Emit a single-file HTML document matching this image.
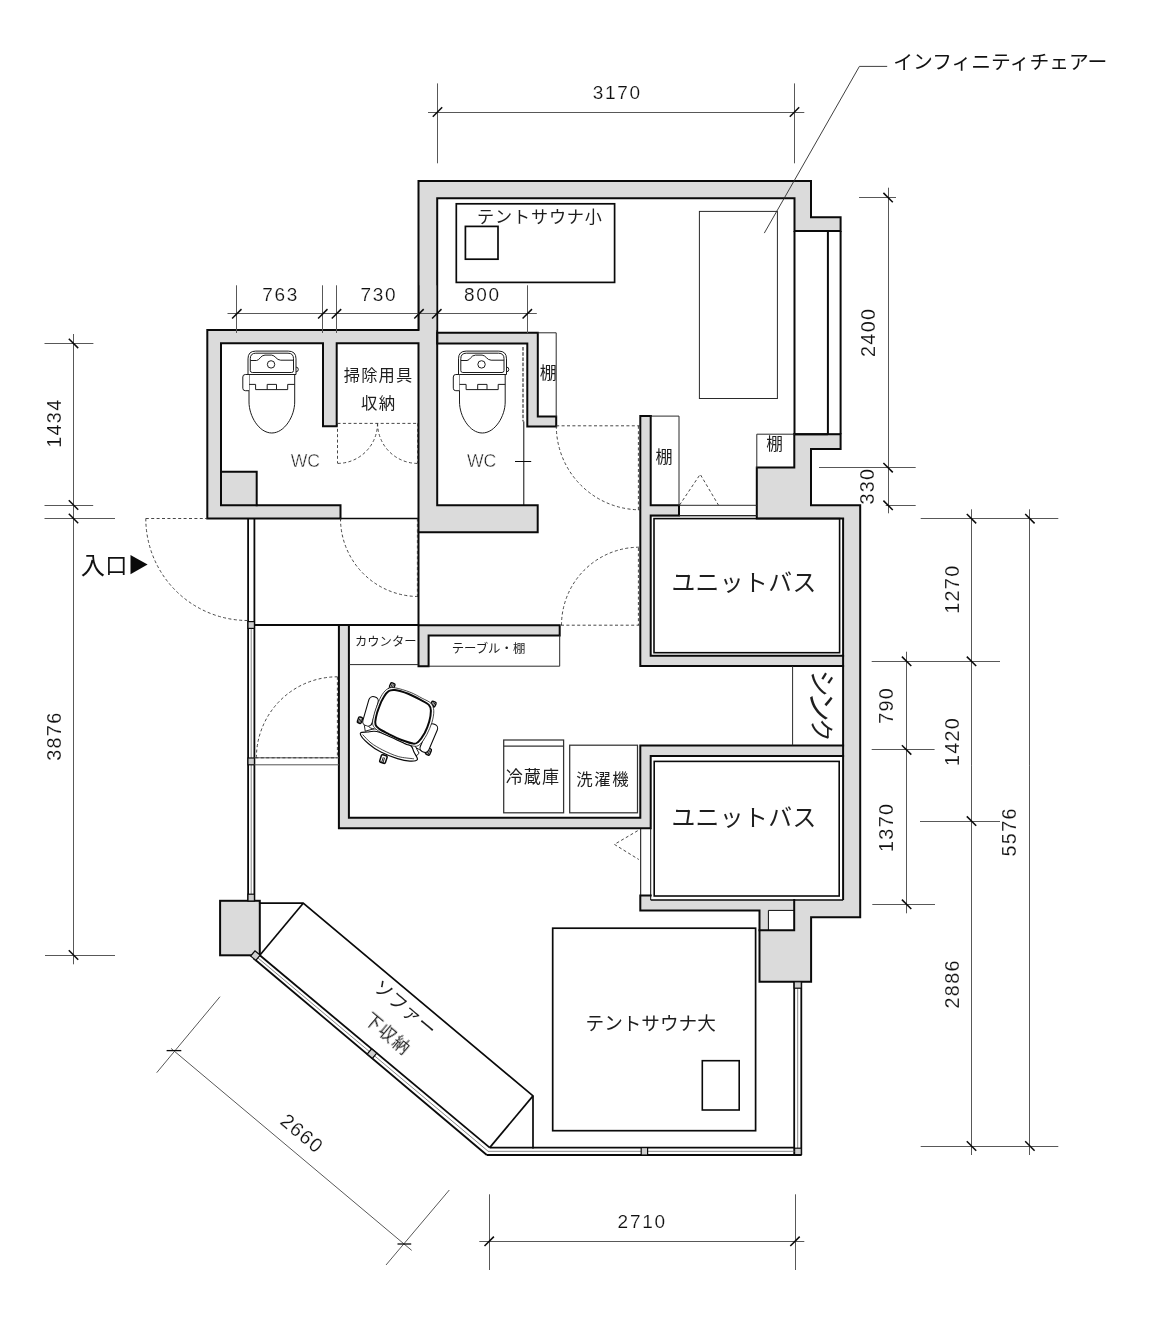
<!DOCTYPE html>
<html lang="ja">
<head>
<meta charset="utf-8">
<title>Floor plan</title>
<style>
html,body{margin:0;padding:0;background:#fff;}
body{width:1162px;height:1321px;overflow:hidden;font-family:"Liberation Sans",sans-serif;}
svg{display:block;}
svg text{font-family:"Liberation Sans",sans-serif;fill:#101010;stroke:#fff;stroke-width:0.16px;paint-order:fill stroke;}
svg text.jp{font-family:"Liberation Sans","Noto Sans CJK JP",sans-serif;fill:#1e1e1e;stroke:none;}
</style>
</head>
<body>
<svg width="1162" height="1321" viewBox="0 0 1162 1321">
<rect width="1162" height="1321" fill="#ffffff"/>
<g id="wall-fills" shape-rendering="crispEdges">
<rect x="207.3" y="330.0" width="211.2" height="13.3" fill="#dbdbdb"/>
<rect x="207.3" y="330.0" width="13.7" height="188.5" fill="#dbdbdb"/>
<rect x="207.3" y="505.3" width="133.2" height="13.2" fill="#dbdbdb"/>
<rect x="221.0" y="471.7" width="35.7" height="33.6" fill="#dbdbdb"/>
<rect x="323.0" y="343.3" width="13.7" height="82.9" fill="#dbdbdb"/>
<rect x="418.5" y="181.0" width="18.7" height="351.2" fill="#dbdbdb"/>
<rect x="418.5" y="181.0" width="392.5" height="17.2" fill="#dbdbdb"/>
<rect x="794.5" y="198.2" width="16.5" height="32.8" fill="#dbdbdb"/>
<rect x="811.0" y="217.2" width="29.6" height="13.8" fill="#dbdbdb"/>
<rect x="418.5" y="505.3" width="119.2" height="26.9" fill="#dbdbdb"/>
<rect x="437.2" y="332.8" width="100.6" height="10.7" fill="#dbdbdb"/>
<rect x="527.3" y="332.8" width="10.5" height="93.6" fill="#dbdbdb"/>
<rect x="527.3" y="416.4" width="28.9" height="10.0" fill="#dbdbdb"/>
<rect x="794.3" y="434.2" width="46.3" height="14.8" fill="#dbdbdb"/>
<rect x="794.3" y="449.0" width="16.7" height="56.3" fill="#dbdbdb"/>
<rect x="756.8" y="467.6" width="54.2" height="50.9" fill="#dbdbdb"/>
<rect x="811.0" y="505.3" width="49.2" height="13.2" fill="#dbdbdb"/>
<rect x="843.1" y="505.3" width="17.1" height="411.9" fill="#dbdbdb"/>
<rect x="640.3" y="416.1" width="10.4" height="249.9" fill="#dbdbdb"/>
<rect x="650.7" y="505.3" width="28.3" height="10.3" fill="#dbdbdb"/>
<rect x="640.3" y="655.7" width="202.8" height="10.3" fill="#dbdbdb"/>
<rect x="640.3" y="745.4" width="202.8" height="10.3" fill="#dbdbdb"/>
<rect x="640.3" y="745.4" width="10.4" height="82.9" fill="#dbdbdb"/>
<rect x="640.3" y="895.5" width="10.4" height="14.9" fill="#dbdbdb"/>
<rect x="650.7" y="900.0" width="192.4" height="10.4" fill="#dbdbdb"/>
<rect x="794.2" y="900.0" width="66.0" height="17.2" fill="#dbdbdb"/>
<rect x="759.5" y="910.4" width="8.9" height="19.8" fill="#dbdbdb"/>
<rect x="759.5" y="930.2" width="51.6" height="51.6" fill="#dbdbdb"/>
<rect x="794.2" y="910.4" width="16.9" height="19.8" fill="#dbdbdb"/>
<rect x="338.9" y="625.0" width="10.0" height="203.3" fill="#dbdbdb"/>
<rect x="338.9" y="817.8" width="311.8" height="10.5" fill="#dbdbdb"/>
<rect x="418.5" y="625.2" width="141.2" height="10.2" fill="#dbdbdb"/>
<rect x="418.5" y="625.2" width="10.1" height="41.0" fill="#dbdbdb"/>
<rect x="220.1" y="900.8" width="39.7" height="54.5" fill="#dbdbdb"/>
</g>
<g id="wall-lines">
<path d="M207.3 330.0 L418.5 330.0 L418.5 181.0 L811.0 181.0 L811.0 217.2 L840.6 217.2 L840.6 231.0 L794.5 231.0 L794.5 198.2 L437.2 198.2 L437.2 505.3 L537.7 505.3 L537.7 532.2 L418.5 532.2 L418.5 343.3 L336.7 343.3 L336.7 426.2 L323.0 426.2 L323.0 343.3 L221.0 343.3 L221.0 471.7 L256.7 471.7 L256.7 505.3 L340.5 505.3 L340.5 518.5 L207.3 518.5 Z" fill="none" stroke="#0a0a0a" stroke-width="2.00" stroke-linecap="square" stroke-linejoin="miter"/>
<path d="M221.0 471.7 L221.0 505.3 L256.7 505.3" fill="none" stroke="#0a0a0a" stroke-width="2.00" stroke-linecap="square" stroke-linejoin="miter"/>
<path d="M437.2 332.8 L537.8 332.8 L537.8 416.4 L556.2 416.4 L556.2 426.4 L527.3 426.4 L527.3 343.5 L437.2 343.5 Z" fill="none" stroke="#0a0a0a" stroke-width="2.00" stroke-linecap="square" stroke-linejoin="miter"/>
<line x1="794.5" y1="231.0" x2="794.5" y2="434.2" stroke="#0a0a0a" stroke-width="2.00" stroke-linecap="butt"/>
<line x1="827.9" y1="231.0" x2="827.9" y2="434.2" stroke="#0a0a0a" stroke-width="2.00" stroke-linecap="butt"/>
<line x1="840.6" y1="231.0" x2="840.6" y2="434.2" stroke="#0a0a0a" stroke-width="2.00" stroke-linecap="butt"/>
<line x1="794.5" y1="434.2" x2="827.9" y2="434.2" stroke="#0a0a0a" stroke-width="2.00" stroke-linecap="butt"/>
<line x1="827.9" y1="231.0" x2="840.6" y2="231.0" stroke="#0a0a0a" stroke-width="1.00" stroke-linecap="butt"/>
<line x1="827.9" y1="434.2" x2="840.6" y2="434.2" stroke="#0a0a0a" stroke-width="1.00" stroke-linecap="butt"/>
<path d="M794.3 434.2 L840.6 434.2 L840.6 449.0 L811.0 449.0 L811.0 505.3 L860.2 505.3 L860.2 917.2 L811.1 917.2 L811.1 981.8 L759.5 981.8 L759.5 910.4 L640.3 910.4 L640.3 895.5 L650.7 895.5" fill="none" stroke="#0a0a0a" stroke-width="2.00" stroke-linecap="square" stroke-linejoin="miter"/>
<path d="M650.7 416.1 L640.3 416.1 L640.3 666.0 L843.1 666.0" fill="none" stroke="#0a0a0a" stroke-width="2.00" stroke-linecap="square" stroke-linejoin="miter"/>
<path d="M650.7 416.1 L650.7 505.3 L679.0 505.3 L679.0 515.6 L650.7 515.6 L650.7 655.7 L843.1 655.7" fill="none" stroke="#0a0a0a" stroke-width="2.00" stroke-linecap="square" stroke-linejoin="miter"/>
<path d="M794.3 434.2 L794.3 467.6 L756.8 467.6 L756.8 518.5 L843.1 518.5" fill="none" stroke="#0a0a0a" stroke-width="2.00" stroke-linecap="square" stroke-linejoin="miter"/>
<line x1="843.1" y1="518.5" x2="843.1" y2="900.0" stroke="#0a0a0a" stroke-width="2.00" stroke-linecap="butt"/>
<line x1="650.7" y1="515.6" x2="756.8" y2="515.6" stroke="#0a0a0a" stroke-width="1.20" stroke-linecap="butt"/>
<rect x="654.0" y="518.6" width="185.6" height="134.1" fill="none" stroke="#0a0a0a" stroke-width="1.60"/>
<path d="M348.9 625.0 L348.9 817.8 L640.3 817.8 L640.3 745.4 L843.1 745.4" fill="none" stroke="#0a0a0a" stroke-width="2.00" stroke-linecap="square" stroke-linejoin="miter"/>
<path d="M338.9 625.0 L338.9 828.3 L650.7 828.3 L650.7 755.9 L843.1 755.9" fill="none" stroke="#0a0a0a" stroke-width="2.00" stroke-linecap="square" stroke-linejoin="miter"/>
<line x1="650.7" y1="828.3" x2="650.7" y2="900.0" stroke="#0a0a0a" stroke-width="1.00" stroke-linecap="butt"/>
<line x1="640.7" y1="828.3" x2="640.7" y2="895.5" stroke="#0a0a0a" stroke-width="1.00" stroke-linecap="butt"/>
<line x1="650.7" y1="900.0" x2="843.1" y2="900.0" stroke="#0a0a0a" stroke-width="1.60" stroke-linecap="butt"/>
<rect x="654.2" y="761.4" width="185.0" height="134.6" fill="none" stroke="#0a0a0a" stroke-width="1.60"/>
<path d="M768.4 930.2 L768.4 910.4 L794.2 910.4" fill="none" stroke="#0a0a0a" stroke-width="1.00" stroke-linecap="square" stroke-linejoin="miter"/>
<path d="M794.2 900.0 L794.2 930.2 L759.5 930.2" fill="none" stroke="#0a0a0a" stroke-width="2.00" stroke-linecap="square" stroke-linejoin="miter"/>
<path d="M418.5 625.2 L559.7 625.2 L559.7 635.4 L428.6 635.4 L428.6 666.2 L418.5 666.2 Z" fill="none" stroke="#0a0a0a" stroke-width="2.00" stroke-linecap="square" stroke-linejoin="miter"/>
<rect x="220.1" y="900.8" width="39.7" height="54.5" fill="none" stroke="#0a0a0a" stroke-width="2.00"/>
</g>
<g id="furniture">
<path d="M537.8 332.8 L556.2 332.8 L556.2 416.4" fill="none" stroke="#2a2a2a" stroke-width="1.00" stroke-linecap="square" stroke-linejoin="miter"/>
<path d="M650.7 416.1 L679.0 416.1 L679.0 505.3" fill="none" stroke="#2a2a2a" stroke-width="1.00" stroke-linecap="square" stroke-linejoin="miter"/>
<path d="M794.3 434.2 L756.8 434.2 L756.8 467.6" fill="none" stroke="#2a2a2a" stroke-width="1.00" stroke-linecap="square" stroke-linejoin="miter"/>
<line x1="679.0" y1="505.3" x2="756.8" y2="505.3" stroke="#2a2a2a" stroke-width="1.00" stroke-linecap="butt"/>
<line x1="679.0" y1="515.6" x2="756.8" y2="515.6" stroke="#2a2a2a" stroke-width="1.00" stroke-linecap="butt"/>
<rect x="456.3" y="203.8" width="158.3" height="78.6" fill="none" stroke="#0a0a0a" stroke-width="1.70"/>
<rect x="465.4" y="226.4" width="32.6" height="32.8" fill="none" stroke="#0a0a0a" stroke-width="1.70"/>
<rect x="699.4" y="211.4" width="78.0" height="187.1" fill="none" stroke="#2a2a2a" stroke-width="1.00"/>
<path d="M887.2 66.4 L859.4 66.4 L764.3 233.1" fill="none" stroke="#2a2a2a" stroke-width="0.90" stroke-linecap="butt" stroke-linejoin="miter"/>
<rect x="552.7" y="928.2" width="202.9" height="202.5" fill="none" stroke="#0a0a0a" stroke-width="1.70"/>
<rect x="702.3" y="1060.7" width="36.9" height="49.3" fill="none" stroke="#0a0a0a" stroke-width="1.60"/>
<rect x="503.7" y="740.0" width="59.9" height="72.8" fill="none" stroke="#333" stroke-width="1.25"/>
<line x1="503.7" y1="746.0" x2="563.6" y2="746.0" stroke="#333" stroke-width="1.25" stroke-linecap="butt"/>
<rect x="569.7" y="745.2" width="67.8" height="67.6" fill="none" stroke="#333" stroke-width="1.25"/>
<line x1="348.9" y1="664.6" x2="418.5" y2="664.6" stroke="#2a2a2a" stroke-width="1.00" stroke-linecap="butt"/>
<line x1="428.6" y1="666.2" x2="559.7" y2="666.2" stroke="#2a2a2a" stroke-width="1.00" stroke-linecap="butt"/>
<line x1="559.7" y1="635.4" x2="559.7" y2="666.2" stroke="#2a2a2a" stroke-width="1.00" stroke-linecap="butt"/>
<line x1="792.6" y1="666.0" x2="792.6" y2="745.4" stroke="#2a2a2a" stroke-width="1.00" stroke-linecap="butt"/>
<line x1="340.5" y1="518.5" x2="418.5" y2="518.5" stroke="#0a0a0a" stroke-width="1.50" stroke-linecap="butt"/>
<line x1="418.5" y1="532.2" x2="418.5" y2="625.2" stroke="#0a0a0a" stroke-width="2.00" stroke-linecap="butt"/>
<line x1="254.4" y1="625.0" x2="418.5" y2="625.0" stroke="#0a0a0a" stroke-width="1.80" stroke-linecap="butt"/>
<line x1="523.8" y1="421.4" x2="523.8" y2="505.3" stroke="#0a0a0a" stroke-width="1.00" stroke-linecap="butt"/>
<line x1="523.0" y1="347.0" x2="523.0" y2="421.4" stroke="#0a0a0a" stroke-width="1.00" stroke-linecap="butt" stroke-dasharray="3.6 1.6"/>
<line x1="515.0" y1="461.5" x2="531.2" y2="461.5" stroke="#0a0a0a" stroke-width="1.00" stroke-linecap="butt"/>
</g>
<g id="windows">
<line x1="248.1" y1="518.5" x2="248.1" y2="901.0" stroke="#0a0a0a" stroke-width="1.80" stroke-linecap="butt"/>
<line x1="254.4" y1="518.5" x2="254.4" y2="901.0" stroke="#0a0a0a" stroke-width="1.80" stroke-linecap="butt"/>
<line x1="251.2" y1="628.4" x2="251.2" y2="901.0" stroke="#666" stroke-width="0.80" stroke-linecap="butt"/>
<rect x="248.0" y="621.6" width="6.4" height="6.8" fill="#cfcfcf" stroke="#0a0a0a" stroke-width="1.20"/>
<rect x="248.0" y="758.0" width="6.4" height="6.8" fill="#cfcfcf" stroke="#0a0a0a" stroke-width="1.20"/>
<rect x="248.0" y="894.2" width="6.4" height="6.8" fill="#cfcfcf" stroke="#0a0a0a" stroke-width="1.20"/>
<line x1="254.4" y1="757.8" x2="338.9" y2="757.8" stroke="#555" stroke-width="1.00" stroke-linecap="butt"/>
<line x1="254.4" y1="764.8" x2="338.9" y2="764.8" stroke="#555" stroke-width="1.00" stroke-linecap="butt"/>
<line x1="794.2" y1="981.8" x2="794.2" y2="1155.0" stroke="#0a0a0a" stroke-width="1.80" stroke-linecap="butt"/>
<line x1="801.3" y1="981.8" x2="801.3" y2="1155.0" stroke="#0a0a0a" stroke-width="1.80" stroke-linecap="butt"/>
<line x1="797.7" y1="988.0" x2="797.7" y2="1148.4" stroke="#666" stroke-width="0.80" stroke-linecap="butt"/>
<rect x="794.2" y="981.8" width="7.1" height="6.4" fill="#cfcfcf" stroke="#0a0a0a" stroke-width="1.20"/>
<rect x="794.6" y="1148.2" width="6.7" height="6.8" fill="#cfcfcf" stroke="#0a0a0a" stroke-width="1.20"/>
<line x1="489.7" y1="1147.6" x2="794.6" y2="1147.6" stroke="#0a0a0a" stroke-width="1.80" stroke-linecap="butt"/>
<line x1="486.8" y1="1155.0" x2="801.3" y2="1155.0" stroke="#0a0a0a" stroke-width="1.80" stroke-linecap="butt"/>
<line x1="488.0" y1="1151.3" x2="794.6" y2="1151.3" stroke="#666" stroke-width="0.80" stroke-linecap="butt"/>
<rect x="641.2" y="1147.6" width="6.4" height="7.4" fill="#cfcfcf" stroke="#0a0a0a" stroke-width="1.20"/>
<line x1="259.8" y1="955.3" x2="489.7" y2="1147.6" stroke="#0a0a0a" stroke-width="1.80" stroke-linecap="butt"/>
<line x1="253.4" y1="958.2" x2="486.8" y2="1155.0" stroke="#0a0a0a" stroke-width="1.80" stroke-linecap="butt"/>
<line x1="256.6" y1="956.8" x2="488.2" y2="1151.3" stroke="#666" stroke-width="0.80" stroke-linecap="butt"/>
<rect x="-3.4" y="-3.4" width="6.8" height="6.8" transform="translate(255.4 955.6) rotate(40)" fill="#cfcfcf" stroke="#0a0a0a" stroke-width="1.2"/>
<rect x="-3.4" y="-3.4" width="6.8" height="6.8" transform="translate(372.0 1053.6) rotate(40)" fill="#cfcfcf" stroke="#0a0a0a" stroke-width="1.2"/>
</g>
<g id="sofa">
<path d="M259.8 903.2 L303.2 903.2 L533.0 1095.9 L533.0 1147.6" fill="none" stroke="#0a0a0a" stroke-width="1.70" stroke-linecap="square" stroke-linejoin="miter"/>
<line x1="303.2" y1="903.2" x2="259.8" y2="955.3" stroke="#0a0a0a" stroke-width="1.70" stroke-linecap="butt"/>
<line x1="533.0" y1="1095.9" x2="489.7" y2="1147.6" stroke="#0a0a0a" stroke-width="1.70" stroke-linecap="butt"/>
</g>
<g id="doors" fill="none" stroke="#333" stroke-width="0.9" stroke-dasharray="3 2.4">
<path d="M145.8 518.5 L207.3 518.5"/>
<path d="M145.8 518.5 A102.0 102.0 0 0 0 247.8 620.5"/>
<path d="M340.5 518.5 A78.0 78.0 0 0 0 418.5 596.5"/>
<path d="M417.4 518.5 L417.4 596.5"/>
<path d="M337.5 423.4 L417.6 423.4"/>
<path d="M337.5 423.4 L337.5 463.4"/>
<path d="M417.6 423.4 L417.6 463.4"/>
<path d="M377.5 423.4 A40.0 40.0 0 0 1 337.5 463.4"/>
<path d="M377.6 423.4 A40.0 40.0 0 0 0 417.6 463.4"/>
<path d="M556.2 425.8 L640.3 425.8"/>
<path d="M556.3 425.8 A84.0 84.0 0 0 0 640.3 509.8"/>
<path d="M638.4 425.8 L638.4 509.8"/>
<path d="M561.0 625.2 L639.5 625.2"/>
<path d="M638.4 548.0 L638.4 625.2"/>
<path d="M561.5 625.2 A78.0 78.0 0 0 1 639.5 547.2"/>
<path d="M255.4 757.8 L337.4 757.8"/>
<path d="M337.4 676.8 L337.4 757.8"/>
<path d="M256.4 757.8 A81.0 81.0 0 0 1 337.4 676.8"/>
<path d="M679.6 505 L700.2 474.3 L718.4 505"/>
<path d="M637.7 830.7 L614.4 844.4 L638.8 859.5"/>
</g>
<g id="dimensions" style="filter:grayscale(1)">
<line x1="428.0" y1="112.5" x2="804.3" y2="112.5" stroke="#585858" stroke-width="1.00" stroke-linecap="butt"/>
<line x1="437.5" y1="83.4" x2="437.5" y2="163.3" stroke="#585858" stroke-width="1.00" stroke-linecap="butt"/>
<line x1="794.5" y1="83.4" x2="794.5" y2="163.3" stroke="#585858" stroke-width="1.00" stroke-linecap="butt"/>
<line x1="432.8" y1="116.7" x2="442.2" y2="107.3" stroke="#0a0a0a" stroke-width="1.50" stroke-linecap="butt"/>
<line x1="789.8" y1="116.7" x2="799.2" y2="107.3" stroke="#0a0a0a" stroke-width="1.50" stroke-linecap="butt"/>
<text transform="translate(616.5 92.2)" x="0.85" y="6.80" text-anchor="middle" font-size="19.0" letter-spacing="1.70">3170</text>
<line x1="227.5" y1="313.5" x2="536.8" y2="313.5" stroke="#585858" stroke-width="1.00" stroke-linecap="butt"/>
<line x1="236.5" y1="285.3" x2="236.5" y2="333.0" stroke="#585858" stroke-width="1.00" stroke-linecap="butt"/>
<line x1="322.5" y1="285.3" x2="322.5" y2="333.0" stroke="#585858" stroke-width="1.00" stroke-linecap="butt"/>
<line x1="336.5" y1="285.3" x2="336.5" y2="333.0" stroke="#585858" stroke-width="1.00" stroke-linecap="butt"/>
<line x1="527.5" y1="285.3" x2="527.5" y2="333.0" stroke="#585858" stroke-width="1.00" stroke-linecap="butt"/>
<line x1="419.5" y1="285.3" x2="419.5" y2="330.0" stroke="#585858" stroke-width="1.00" stroke-linecap="butt"/>
<line x1="436.5" y1="285.3" x2="436.5" y2="330.0" stroke="#585858" stroke-width="1.00" stroke-linecap="butt"/>
<line x1="232.1" y1="318.5" x2="241.5" y2="309.1" stroke="#0a0a0a" stroke-width="1.50" stroke-linecap="butt"/>
<line x1="318.1" y1="318.5" x2="327.5" y2="309.1" stroke="#0a0a0a" stroke-width="1.50" stroke-linecap="butt"/>
<line x1="331.8" y1="318.5" x2="341.2" y2="309.1" stroke="#0a0a0a" stroke-width="1.50" stroke-linecap="butt"/>
<line x1="414.3" y1="318.5" x2="423.7" y2="309.1" stroke="#0a0a0a" stroke-width="1.50" stroke-linecap="butt"/>
<line x1="432.1" y1="318.5" x2="441.5" y2="309.1" stroke="#0a0a0a" stroke-width="1.50" stroke-linecap="butt"/>
<line x1="522.6" y1="318.5" x2="532.0" y2="309.1" stroke="#0a0a0a" stroke-width="1.50" stroke-linecap="butt"/>
<text transform="translate(279.7 294.2)" x="0.85" y="6.80" text-anchor="middle" font-size="19.0" letter-spacing="1.70">763</text>
<text transform="translate(378.0 294.2)" x="0.85" y="6.80" text-anchor="middle" font-size="19.0" letter-spacing="1.70">730</text>
<text transform="translate(481.6 294.2)" x="0.85" y="6.80" text-anchor="middle" font-size="19.0" letter-spacing="1.70">800</text>
<line x1="73.5" y1="334.0" x2="73.5" y2="964.3" stroke="#585858" stroke-width="1.00" stroke-linecap="butt"/>
<line x1="44.5" y1="343.5" x2="93.4" y2="343.5" stroke="#585858" stroke-width="1.00" stroke-linecap="butt"/>
<line x1="44.5" y1="505.5" x2="93.2" y2="505.5" stroke="#585858" stroke-width="1.00" stroke-linecap="butt"/>
<line x1="44.5" y1="518.5" x2="115.0" y2="518.5" stroke="#585858" stroke-width="1.00" stroke-linecap="butt"/>
<line x1="45.0" y1="955.5" x2="115.0" y2="955.5" stroke="#585858" stroke-width="1.00" stroke-linecap="butt"/>
<line x1="68.8" y1="338.7" x2="78.2" y2="348.1" stroke="#0a0a0a" stroke-width="1.50" stroke-linecap="butt"/>
<line x1="68.8" y1="500.3" x2="78.2" y2="509.7" stroke="#0a0a0a" stroke-width="1.50" stroke-linecap="butt"/>
<line x1="68.8" y1="513.8" x2="78.2" y2="523.2" stroke="#0a0a0a" stroke-width="1.50" stroke-linecap="butt"/>
<line x1="68.8" y1="950.3" x2="78.2" y2="959.7" stroke="#0a0a0a" stroke-width="1.50" stroke-linecap="butt"/>
<text transform="translate(53.6 423.8) rotate(-90)" x="0.65" y="7.09" text-anchor="middle" font-size="19.8" letter-spacing="1.30">1434</text>
<text transform="translate(53.6 736.8) rotate(-90)" x="0.65" y="7.09" text-anchor="middle" font-size="19.8" letter-spacing="1.30">3876</text>
<line x1="888.5" y1="187.7" x2="888.5" y2="513.3" stroke="#585858" stroke-width="1.00" stroke-linecap="butt"/>
<line x1="859.0" y1="197.5" x2="896.0" y2="197.5" stroke="#585858" stroke-width="1.00" stroke-linecap="butt"/>
<line x1="819.0" y1="467.5" x2="915.7" y2="467.5" stroke="#585858" stroke-width="1.00" stroke-linecap="butt"/>
<line x1="885.7" y1="505.5" x2="915.7" y2="505.5" stroke="#585858" stroke-width="1.00" stroke-linecap="butt"/>
<line x1="883.4" y1="192.9" x2="892.8" y2="202.3" stroke="#0a0a0a" stroke-width="1.50" stroke-linecap="butt"/>
<line x1="883.4" y1="463.0" x2="892.8" y2="472.4" stroke="#0a0a0a" stroke-width="1.50" stroke-linecap="butt"/>
<line x1="883.4" y1="500.6" x2="892.8" y2="510.0" stroke="#0a0a0a" stroke-width="1.50" stroke-linecap="butt"/>
<text transform="translate(867.6 333.0) rotate(-90)" x="0.65" y="7.09" text-anchor="middle" font-size="19.8" letter-spacing="1.30">2400</text>
<text transform="translate(867.2 486.7) rotate(-90)" x="0.65" y="7.09" text-anchor="middle" font-size="19.8" letter-spacing="1.30">330</text>
<line x1="906.5" y1="651.7" x2="906.5" y2="913.3" stroke="#585858" stroke-width="1.00" stroke-linecap="butt"/>
<line x1="871.7" y1="661.5" x2="1000.0" y2="661.5" stroke="#585858" stroke-width="1.00" stroke-linecap="butt"/>
<line x1="871.7" y1="749.5" x2="934.6" y2="749.5" stroke="#585858" stroke-width="1.00" stroke-linecap="butt"/>
<line x1="872.3" y1="904.5" x2="935.0" y2="904.5" stroke="#585858" stroke-width="1.00" stroke-linecap="butt"/>
<line x1="901.9" y1="656.6" x2="911.3" y2="666.0" stroke="#0a0a0a" stroke-width="1.50" stroke-linecap="butt"/>
<line x1="901.9" y1="745.2" x2="911.3" y2="754.6" stroke="#0a0a0a" stroke-width="1.50" stroke-linecap="butt"/>
<line x1="901.9" y1="899.6" x2="911.3" y2="909.0" stroke="#0a0a0a" stroke-width="1.50" stroke-linecap="butt"/>
<text transform="translate(886.2 706.0) rotate(-90)" x="0.65" y="7.09" text-anchor="middle" font-size="19.8" letter-spacing="1.30">790</text>
<text transform="translate(886.2 828.0) rotate(-90)" x="0.65" y="7.09" text-anchor="middle" font-size="19.8" letter-spacing="1.30">1370</text>
<line x1="971.5" y1="509.3" x2="971.5" y2="1155.0" stroke="#585858" stroke-width="1.00" stroke-linecap="butt"/>
<line x1="920.7" y1="518.5" x2="1058.3" y2="518.5" stroke="#585858" stroke-width="1.00" stroke-linecap="butt"/>
<line x1="920.0" y1="821.5" x2="1000.0" y2="821.5" stroke="#585858" stroke-width="1.00" stroke-linecap="butt"/>
<line x1="920.7" y1="1146.5" x2="1058.3" y2="1146.5" stroke="#585858" stroke-width="1.00" stroke-linecap="butt"/>
<line x1="966.8" y1="514.0" x2="976.2" y2="523.4" stroke="#0a0a0a" stroke-width="1.50" stroke-linecap="butt"/>
<line x1="966.8" y1="656.6" x2="976.2" y2="666.0" stroke="#0a0a0a" stroke-width="1.50" stroke-linecap="butt"/>
<line x1="966.8" y1="816.4" x2="976.2" y2="825.8" stroke="#0a0a0a" stroke-width="1.50" stroke-linecap="butt"/>
<line x1="966.8" y1="1141.3" x2="976.2" y2="1150.7" stroke="#0a0a0a" stroke-width="1.50" stroke-linecap="butt"/>
<text transform="translate(952.0 589.8) rotate(-90)" x="0.65" y="7.09" text-anchor="middle" font-size="19.8" letter-spacing="1.30">1270</text>
<text transform="translate(951.8 742.1) rotate(-90)" x="0.65" y="7.09" text-anchor="middle" font-size="19.8" letter-spacing="1.30">1420</text>
<text transform="translate(952.0 984.5) rotate(-90)" x="0.65" y="7.09" text-anchor="middle" font-size="19.8" letter-spacing="1.30">2886</text>
<line x1="1029.5" y1="509.3" x2="1029.5" y2="1155.0" stroke="#585858" stroke-width="1.00" stroke-linecap="butt"/>
<line x1="1025.2" y1="514.0" x2="1034.6" y2="523.4" stroke="#0a0a0a" stroke-width="1.50" stroke-linecap="butt"/>
<line x1="1025.2" y1="1141.3" x2="1034.6" y2="1150.7" stroke="#0a0a0a" stroke-width="1.50" stroke-linecap="butt"/>
<text transform="translate(1009.2 832.5) rotate(-90)" x="0.65" y="7.09" text-anchor="middle" font-size="19.8" letter-spacing="1.30">5576</text>
<line x1="479.3" y1="1241.5" x2="804.3" y2="1241.5" stroke="#585858" stroke-width="1.00" stroke-linecap="butt"/>
<line x1="489.5" y1="1194.3" x2="489.5" y2="1270.0" stroke="#585858" stroke-width="1.00" stroke-linecap="butt"/>
<line x1="795.5" y1="1194.3" x2="795.5" y2="1270.0" stroke="#585858" stroke-width="1.00" stroke-linecap="butt"/>
<line x1="484.5" y1="1246.0" x2="493.9" y2="1236.6" stroke="#0a0a0a" stroke-width="1.50" stroke-linecap="butt"/>
<line x1="790.3" y1="1246.0" x2="799.7" y2="1236.6" stroke="#0a0a0a" stroke-width="1.50" stroke-linecap="butt"/>
<text transform="translate(641.3 1221.4)" x="0.85" y="6.80" text-anchor="middle" font-size="19.0" letter-spacing="1.70">2710</text>
<line x1="171.0" y1="1048.4" x2="411.7" y2="1250.4" stroke="#585858" stroke-width="1.00" stroke-linecap="butt"/>
<line x1="156.7" y1="1072.7" x2="220.0" y2="996.7" stroke="#585858" stroke-width="1.00" stroke-linecap="butt"/>
<line x1="386.0" y1="1265.0" x2="449.3" y2="1190.0" stroke="#585858" stroke-width="1.00" stroke-linecap="butt"/>
<line x1="166.6" y1="1050.6" x2="181.3" y2="1050.6" stroke="#0a0a0a" stroke-width="1.30" stroke-linecap="butt"/>
<line x1="397.5" y1="1244.0" x2="411.2" y2="1244.0" stroke="#0a0a0a" stroke-width="1.30" stroke-linecap="butt"/>
<text transform="translate(301.8 1133.0) rotate(40)" x="0.65" y="7.09" text-anchor="middle" font-size="19.8" letter-spacing="1.30">2660</text>
</g>
<g id="toilet-1" transform="translate(0.0 0)" fill="none" stroke="#1c1c1c" stroke-width="1" stroke-linejoin="round"><path d="M249 374.5 L249 402 C249 416 259 433 271.8 433 C284.6 433 294.7 416 294.7 402 L294.7 374.5" fill="#fff"/><path d="M248 374.5 L248 358.8 Q248 351.1 255.7 351.1 L288.3 351.1 Q296 351.1 296 358.8 L296 374.5 Z" fill="#fff"/><path d="M250.3 370.5 L250.3 358.7 Q250.3 353.2 255.8 353.2 L288 353.2 Q293.5 353.2 293.5 358.7 L293.5 370.5 Q293.5 372.5 291.5 372.5 L252.3 372.5 Q250.3 372.5 250.3 370.5 Z"/><path d="M250.5 360.5 L256.5 360.5 C259.6 360.5 260.4 355.1 265 355.1 L271.6 355.1 C275.2 355.1 276.4 360.2 280.6 360.2 L293.4 360.2"/><circle cx="271.05" cy="364.4" r="3.7"/><path d="M296 367.1 A2.3 2.35 0 0 1 296 371.8"/><path d="M249 374.5 L245.3 374.5 Q242.8 374.5 242.8 377 L242.8 388.2 Q242.8 390.7 245.3 390.7 L249 390.7" fill="#fff"/><path d="M249 384.4 L255.6 384.4 L255.6 389.6 L287.7 389.6 L287.7 384.4 L294.7 384.4 M267.2 389.6 L267.2 384.4 L276.5 384.4 L276.5 389.6"/></g>
<g id="toilet-2" transform="translate(210.5 0)" fill="none" stroke="#1c1c1c" stroke-width="1" stroke-linejoin="round"><path d="M249 374.5 L249 402 C249 416 259 433 271.8 433 C284.6 433 294.7 416 294.7 402 L294.7 374.5" fill="#fff"/><path d="M248 374.5 L248 358.8 Q248 351.1 255.7 351.1 L288.3 351.1 Q296 351.1 296 358.8 L296 374.5 Z" fill="#fff"/><path d="M250.3 370.5 L250.3 358.7 Q250.3 353.2 255.8 353.2 L288 353.2 Q293.5 353.2 293.5 358.7 L293.5 370.5 Q293.5 372.5 291.5 372.5 L252.3 372.5 Q250.3 372.5 250.3 370.5 Z"/><path d="M250.5 360.5 L256.5 360.5 C259.6 360.5 260.4 355.1 265 355.1 L271.6 355.1 C275.2 355.1 276.4 360.2 280.6 360.2 L293.4 360.2"/><circle cx="271.05" cy="364.4" r="3.7"/><path d="M296 367.1 A2.3 2.35 0 0 1 296 371.8"/><path d="M249 374.5 L245.3 374.5 Q242.8 374.5 242.8 377 L242.8 388.2 Q242.8 390.7 245.3 390.7 L249 390.7" fill="#fff"/><path d="M249 384.4 L255.6 384.4 L255.6 389.6 L287.7 389.6 L287.7 384.4 L294.7 384.4 M267.2 389.6 L267.2 384.4 L276.5 384.4 L276.5 389.6"/></g>
<g id="chair" transform="translate(352 676) scale(0.08262)" fill="#fff" stroke="#0a0a0a" stroke-linejoin="round" stroke-linecap="round">
<g transform="translate(487 118) rotate(22)" stroke-width="17"><rect x="-28" y="-32" width="56" height="64" rx="16" fill="#fff"/><path d="M-8 -16 L-8 28 M9 -16 L9 28" stroke-width="10"/></g>
<g transform="translate(985 340) rotate(24)" stroke-width="17"><rect x="-28" y="-30" width="56" height="60" rx="16" fill="#fff"/><path d="M-8 -16 L-8 26 M9 -16 L9 26" stroke-width="10"/></g>
<g transform="translate(96 535) rotate(20)" stroke-width="17"><rect x="-25" y="-38" width="50" height="76" rx="16" fill="#fff"/><path d="M-8 -16 L-8 34 M9 -16 L9 34" stroke-width="10"/></g>
<g transform="translate(380 1005) rotate(18)" stroke-width="18"><rect x="-36" y="-48" width="72" height="96" rx="16" fill="#fff"/><path d="M-8 -16 L-8 44 M9 -16 L9 44" stroke-width="10"/></g>
<g transform="translate(925 915) rotate(22)" stroke-width="17"><rect x="-28" y="-40" width="56" height="80" rx="16" fill="#fff"/><path d="M-8 -16 L-8 36 M9 -16 L9 36" stroke-width="10"/></g>
<rect x="-58" y="-182" width="116" height="364" rx="52" transform="translate(224 428) rotate(16.2)" stroke-width="13"/>
<rect x="-56" y="-182" width="112" height="364" rx="52" transform="translate(930 752) rotate(23)" stroke-width="13"/>
<path d="M150 600 L160 668 L262 640 M205 615 Q240 650 300 640 M760 840 L812 935 L770 975 M780 870 L840 905" fill="#fff" stroke-width="11"/>
<path d="M440 150 C467 136 486 137 530 145 C573 152 646 174 700 195 C753 215 807 247 850 270 C892 292 931 305 955 330 C978 355 987 381 990 420 C992 458 982 511 968 560 C953 608 929 665 905 710 C880 755 847 807 820 830 C792 853 778 853 740 848 C701 843 643 821 590 800 C536 779 467 746 420 722 C372 697 333 677 305 655 C277 633 259 617 252 590 C244 562 253 529 262 490 C270 450 287 399 305 355 C322 310 342 259 365 225 C387 190 412 163 440 150 Z" stroke-width="9"/>
<path d="M100 698 C98 674 156 682 190 678 C223 673 255 662 300 672 C345 681 403 710 460 735 C516 759 597 800 640 820 C683 839 699 833 718 850 C736 866 737 893 750 920 C762 947 800 993 792 1012 C783 1030 740 1032 700 1030 C659 1028 608 1018 550 1000 C491 981 408 950 350 920 C291 890 241 857 200 820 C158 783 101 721 100 698 Z" stroke-width="14"/>
<path d="M132 712 C148 728 190 779 230 810 C269 840 315 867 370 895 C425 922 497 957 560 975 C622 992 714 997 745 1002" fill="none" stroke-width="9"/>
<path d="M440 185 C462 170 480 165 520 170 C560 175 628 195 680 215 C731 235 788 267 830 290 C871 312 909 328 930 350 C950 371 954 386 955 420 C955 453 947 505 935 550 C922 595 902 648 880 690 C857 731 823 778 800 800 C776 821 773 822 740 818 C706 813 650 794 600 775 C550 755 485 722 440 700 C395 677 355 658 330 640 C304 621 291 613 285 590 C278 566 282 536 290 500 C297 463 314 410 330 370 C345 329 366 285 385 255 C403 224 417 199 440 185 Z" stroke-width="24"/>
</g>
<g id="labels" style="filter:grayscale(1)">
<text class="jp" x="539.9" y="222.9" text-anchor="middle" font-size="17.1" letter-spacing="0.9">テントサウナ小</text>
<text class="jp" x="1000.3" y="69.4" text-anchor="middle" font-size="19.8" style="fill:#111">インフィニティチェアー</text>
<text class="jp" x="378.6" y="381.4" text-anchor="middle" font-size="16.25" letter-spacing="1.2">掃除用具</text>
<text class="jp" x="378.7" y="408.7" text-anchor="middle" font-size="16.4" letter-spacing="1.2">収納</text>
<text class="jp" x="548.35" y="378.9" text-anchor="middle" font-size="17.1">棚</text>
<text class="jp" x="664.05" y="462.5" text-anchor="middle" font-size="17.2">棚</text>
<text class="jp" x="774.55" y="450.3" text-anchor="middle" font-size="16.7">棚</text>
<text class="jp" x="744.0" y="590.9" text-anchor="middle" font-size="23.8" letter-spacing="0.4">ユニットバス</text>
<text class="jp" x="744.0" y="826.4" text-anchor="middle" font-size="23.8" letter-spacing="0.4">ユニットバス</text>
<text class="jp" x="385.75" y="645.9" text-anchor="middle" font-size="12.3">カウンター</text>
<text class="jp" x="488.5" y="653.4" text-anchor="middle" font-size="12.4">テーブル・棚</text>
<text class="jp" x="532.85" y="783.3" text-anchor="middle" font-size="17.1" letter-spacing="1">冷蔵庫</text>
<text class="jp" x="603.2" y="784.9" text-anchor="middle" font-size="16.4" letter-spacing="1.6">洗濯機</text>
<text class="jp" x="650.65" y="1029.55" text-anchor="middle" font-size="18.6">テントサウナ大</text>
<text class="jp" x="92.95" y="574.0" text-anchor="middle" font-size="24.25" style="fill:#111">入</text>
<text class="jp" x="116.3" y="573.1" text-anchor="middle" font-size="22.1" style="fill:#111">口</text>
<path d="M130.5 555 L147.6 564.6 L130.5 574.2 Z" fill="#0a0a0a"/>
<text class="jp" transform="translate(820.75 683.40) rotate(90)" x="0" y="9.2" text-anchor="middle" font-size="27.1">シ</text>
<text class="jp" transform="translate(820.75 706.85) rotate(90)" x="0" y="9.8" text-anchor="middle" font-size="30">ン</text>
<text class="jp" transform="translate(820.75 730.05) rotate(90)" x="0" y="7.8" text-anchor="middle" font-size="23.5">ク</text>
<text class="jp" transform="translate(404.50 1008.60) rotate(40)" x="0" y="5.8" text-anchor="middle" font-size="18.8">ソファー</text>
<text class="jp" transform="translate(387.40 1033.30) rotate(40)" x="0.75" y="5.8" text-anchor="middle" font-size="16.5" letter-spacing="1.5">下収納</text>
<text x="305.4" y="466.9" text-anchor="middle" font-size="17.6" style="fill:#222;stroke-width:0.42px">WC</text>
<text x="481.6" y="467.2" text-anchor="middle" font-size="17.6" style="fill:#222;stroke-width:0.42px">WC</text>
</g>
</svg>
</body>
</html>
